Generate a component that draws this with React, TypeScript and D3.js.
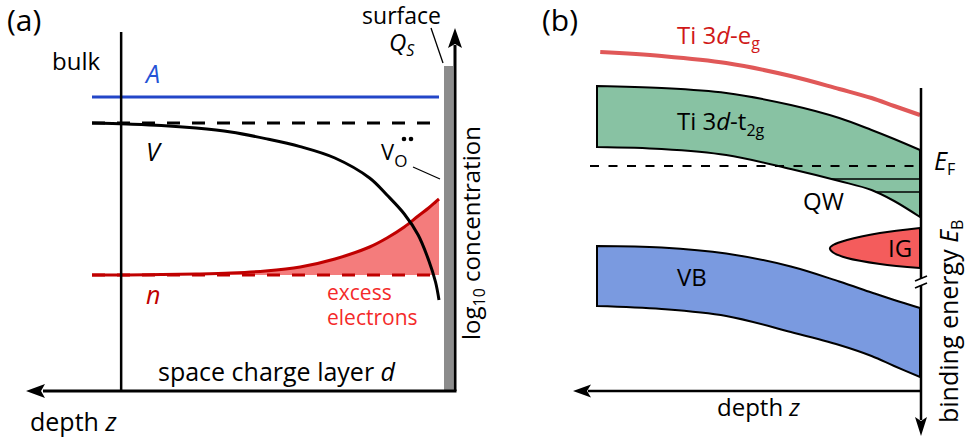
import React from "react";
import * as d3 from "d3";

// ---------- Panel (a): defect and carrier concentrations vs. depth ----------
// depth from the surface (0) into the bulk (100), arbitrary units
const depthA = [100, 90, 80, 70, 60, 50, 40, 30, 20, 15, 10, 6, 3, 1, 0];
// log10 concentration of oxygen vacancies V
const vacancyLog = [7.35, 7.325, 7.29, 7.225, 7.125, 6.96, 6.76, 6.475, 5.975, 5.55, 5.075, 4.55, 3.925, 3.375, 2.925];
// log10 concentration of electrons n
const electronLog = [3.55, 3.55, 3.56, 3.575, 3.6, 3.65, 3.75, 3.95, 4.25, 4.475, 4.75, 5.025, 5.225, 5.375, 5.45];
// log10 concentration of acceptors A (flat)
const acceptorLog = 8.0;
// depth of the space-charge-layer boundary
const spaceChargeDepth = 91.6;

// ---------- Panel (b): band diagram vs. depth ----------
const depthB = [100, 80, 60, 40, 25, 15, 8, 0];
const egDepth = [99, 80, 60, 40, 25, 15, 8, 0];
// binding energies (eV, relative to E_F, positive downward)
const egEdge = [-4.56, -4.4, -4.12, -3.6, -3.08, -2.72, -2.4, -2.04];
const t2gTop = [-3.2, -3.12, -2.92, -2.44, -1.92, -1.44, -1.08, -0.64];
const t2gBottom = [-0.76, -0.68, -0.44, 0.12, 0.6, 0.96, 1.4, 2.04];
const vbTop = [3.2, 3.26, 3.5, 4.02, 4.62, 5.06, 5.36, 5.68];
const vbBottom = [5.6, 5.72, 6.0, 6.64, 7.16, 7.6, 8.0, 8.44];
// quantum-well subband levels
const qwLevels = [0.52, 1.04];
// in-gap state contour (depth, binding energy)
const igDepth = [0, 12.4, 22.6, 26.9, 27.9, 26.9, 22.6, 12.4, 0];
const igEnergy = [2.48, 2.68, 2.96, 3.16, 3.28, 3.46, 3.68, 3.92, 4.08];
const fermiLevel = 0;
const axisBreak = 4.64;

const FONT = "'Open Sans', 'Noto Sans', sans-serif";
const smooth = d3.curveCatmullRom.alpha(0.5);

export default function App() {
  // scales for panel (a)
  const xA = d3.scaleLinear().domain([0, 100]).range([439, 92]);
  const yA = d3.scaleLinear().domain([0, 10]).range([417, 17]);
  // scales for panel (b)
  const xB = d3.scaleLinear().domain([0, 100]).range([920, 597]);
  const yB = d3.scaleLinear().domain([0, 1]).range([166, 191]);

  const curveA = (vals: number[]) =>
    d3
      .line<number>()
      .x((_, i) => xA(depthA[i]))
      .y((v) => yA(v))
      .curve(smooth)(vals) as string;

  const excessArea = d3
    .area<number>()
    .x((_, i) => xA(depthA[i]))
    .y0(yA(electronLog[0]))
    .y1((v) => yA(v))
    .curve(smooth)(electronLog) as string;

  const band = (top: number[], bottom: number[]) =>
    d3
      .area<number>()
      .x((_, i) => xB(depthB[i]))
      .y0((_, i) => yB(bottom[i]))
      .y1((v) => yB(v))
      .curve(smooth)(top) as string;

  const egLine = d3
    .line<number>()
    .x((_, i) => xB(egDepth[i]))
    .y((v) => yB(v))
    .curve(smooth)(egEdge) as string;

  const igPath =
    (d3
      .line<number>()
      .x((d) => xB(d))
      .y((_, i) => yB(igEnergy[i]))
      .curve(d3.curveCatmullRom)(igDepth) as string) + "Z";

  // depth at which each QW level meets the lower t2g edge
  const bottomToDepth = d3.scaleLinear().domain(t2gBottom).range(depthB);

  const axA = { x: 455, y: 391 };
  const axB = { x: 921, y: 391 };
  const yBreak = yB(axisBreak);

  return (
    <svg
      width={968}
      height={442}
      style={{ position: "absolute", left: 0, top: 0, background: "#fff" }}
      fontFamily={FONT}
    >
      {/* ================= (a) ================= */}
      <text x={7} y={31} fontSize={30}>(a)</text>

      {/* excess electrons */}
      <path d={excessArea} fill="#f47c7c" />
      <line x1={xA(100)} x2={xA(0)} y1={yA(electronLog[0])} y2={yA(electronLog[0])}
        stroke="#c00000" strokeWidth={3} strokeDasharray="13 12" />
      <path d={curveA(electronLog)} fill="none" stroke="#c00000" strokeWidth={3} />

      {/* vacancies */}
      <line x1={xA(100)} x2={xA(0)} y1={yA(vacancyLog[0])} y2={yA(vacancyLog[0])}
        stroke="#000" strokeWidth={3} strokeDasharray="13 12" />
      <path d={curveA(vacancyLog)} fill="none" stroke="#000" strokeWidth={3} />

      {/* acceptors */}
      <line x1={xA(100)} x2={xA(0)} y1={yA(acceptorLog)} y2={yA(acceptorLog)}
        stroke="#2346c8" strokeWidth={3} />

      {/* space charge boundary */}
      <line x1={xA(spaceChargeDepth)} x2={xA(spaceChargeDepth)} y1={32} y2={axA.y}
        stroke="#000" strokeWidth={2.5} />

      {/* surface charge */}
      <rect x={444} y={66} width={9} height={axA.y - 66} fill="#8c8c8c" />

      {/* axes */}
      <line x1={43} x2={axA.x + 1.5} y1={axA.y} y2={axA.y} stroke="#000" strokeWidth={3} />
      <line x1={axA.x} x2={axA.x} y1={axA.y} y2={45} stroke="#000" strokeWidth={3} />
      <path d={`M26,${axA.y} L45,${axA.y - 7} L41,${axA.y} L45,${axA.y + 7} Z`} fill="#000" />
      <path d={`M${axA.x},28 L${axA.x - 7},48 L${axA.x},44 L${axA.x + 7},48 Z`} fill="#000" />

      {/* labels (a) */}
      <text x={441} y={24} fontSize={23} textAnchor="end">surface</text>
      <text x={389} y={51} fontSize={24} fontStyle="italic">
        Q<tspan fontSize={16} dy={5}>S</tspan>
      </text>
      <line x1={431} y1={28} x2={443} y2={63} stroke="#000" strokeWidth={1.3} />

      <text x={52} y={70} fontSize={24}>bulk</text>
      <text x={146} y={83} fontSize={25} fontStyle="italic" fill="#2453d6">A</text>
      <text x={146} y={161} fontSize={25} fontStyle="italic">V</text>
      <text x={381} y={160} fontSize={22}>
        V<tspan fontSize={17} dy={7}>O</tspan>
      </text>
      <circle cx={404} cy={139} r={2.3} fill="#000" />
      <circle cx={411} cy={139} r={2.3} fill="#000" />
      <line x1={413} y1={167} x2={440} y2={179} stroke="#000" strokeWidth={1.3} />

      <text x={146} y={304} fontSize={25} fontStyle="italic" fill="#c00000">n</text>
      <text x={327} y={300} fontSize={21} fill="#f42a2a">excess</text>
      <text x={327} y={325} fontSize={21} fill="#f42a2a">electrons</text>

      <text x={158} y={381} fontSize={25}>
        space charge layer <tspan fontStyle="italic">d</tspan>
      </text>
      <text x={30} y={431} fontSize={25}>
        depth <tspan fontStyle="italic">z</tspan>
      </text>
      <text transform="translate(480,340) rotate(-90)" fontSize={24}>
        log<tspan fontSize={16} dy={5}>10</tspan>
        <tspan dy={-5}> concentration</tspan>
      </text>

      {/* ================= (b) ================= */}
      <text x={542} y={31} fontSize={30}>(b)</text>

      <path d={egLine} fill="none" stroke="#e05858" strokeWidth={4} />
      <text x={677} y={44} fontSize={24} fill="#d01818">
        Ti 3<tspan fontStyle="italic">d</tspan>-e<tspan fontSize={16} dy={5}>g</tspan>
      </text>

      <path d={band(t2gTop, t2gBottom)} fill="#88c2a3" stroke="#000" strokeWidth={2} />
      <text x={677} y={130} fontSize={24}>
        Ti 3<tspan fontStyle="italic">d</tspan>-t<tspan fontSize={16} dy={6}>2g</tspan>
      </text>

      {qwLevels.map((lv) => (
        <line key={lv} x1={xB(bottomToDepth(lv))} x2={xB(0)} y1={yB(lv)} y2={yB(lv)}
          stroke="#000" strokeWidth={1.5} />
      ))}
      <line x1={590} x2={xB(0)} y1={yB(fermiLevel)} y2={yB(fermiLevel)}
        stroke="#000" strokeWidth={2} strokeDasharray="9 9.5" />
      <text x={803} y={210} fontSize={24}>QW</text>

      <path d={igPath} fill="#f45c5c" stroke="#000" strokeWidth={2} />
      <text x={888} y={257} fontSize={24}>IG</text>

      <path d={band(vbTop, vbBottom)} fill="#7a9ae0" stroke="#000" strokeWidth={2} />
      <text x={677} y={286} fontSize={24}>VB</text>

      {/* axes (b) */}
      <line x1={588} x2={axB.x} y1={axB.y} y2={axB.y} stroke="#000" strokeWidth={2.5} />
      <line x1={axB.x} x2={axB.x} y1={88} y2={420} stroke="#000" strokeWidth={2.5} />
      <path d={`M573,${axB.y} L591,${axB.y - 6.5} L587,${axB.y} L591,${axB.y + 6.5} Z`} fill="#000" />
      <path d={`M${axB.x},436 L${axB.x - 6},417 L${axB.x},421 L${axB.x + 6},417 Z`} fill="#000" />
      <rect x={axB.x - 3} y={yBreak - 3} width={6} height={6} fill="#fff" />
      <line x1={axB.x - 6} y1={yBreak - 1} x2={axB.x + 6} y2={yBreak - 6} stroke="#000" strokeWidth={1.6} />
      <line x1={axB.x - 6} y1={yBreak + 6} x2={axB.x + 6} y2={yBreak + 1} stroke="#000" strokeWidth={1.6} />

      <text x={934} y={170} fontSize={25} fontStyle="italic">
        E<tspan fontSize={16} fontStyle="normal" dy={5}>F</tspan>
      </text>
      <text x={717} y={416} fontSize={24}>
        depth <tspan fontStyle="italic">z</tspan>
      </text>
      <text transform="translate(958,423) rotate(-90)" fontSize={25}>
        binding energy <tspan fontStyle="italic">E</tspan>
        <tspan fontSize={16} fontStyle="normal" dy={5}>B</tspan>
      </text>
    </svg>
  );
}
